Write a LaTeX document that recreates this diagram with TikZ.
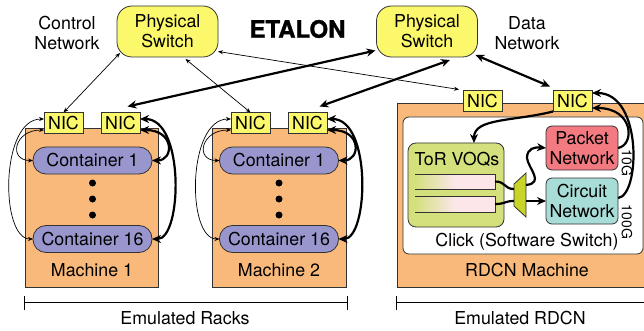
\documentclass[tikz,border=0pt]{standalone}
\usepackage{fontspec}
\setmainfont{TeX Gyre Heros}
\newfontfamily\titlefont{TeX Gyre Heros}[FakeBold=1.3]
\usetikzlibrary{arrows.meta,calc}
\definecolor{machorange}{RGB}{249,185,123}
\definecolor{nicyellow}{RGB}{252,248,107}
\definecolor{contpurple}{RGB}{152,150,204}
\definecolor{torgreen}{RGB}{212,224,124}
\definecolor{trapgreen}{RGB}{200,212,40}
\definecolor{pktred}{RGB}{242,122,128}
\definecolor{circteal}{RGB}{168,220,214}
\definecolor{qpink}{RGB}{252,230,234}
\definecolor{edge}{RGB}{50,50,50}
\begin{document}
\begin{tikzpicture}[x=1pt,y=-1pt,
  font=\fontsize{17.8}{20}\selectfont,
  every node/.style={inner sep=0pt, outer sep=0pt},
  machbox/.style={draw=edge, line width=0.8pt, fill=machorange},
  nicbox/.style={draw=edge, line width=0.8pt, fill=nicyellow, minimum width=39pt, minimum height=21pt},
  switchbox/.style={draw=edge, line width=0.8pt, fill=nicyellow, rounded corners=15pt, minimum width=101pt, minimum height=51pt, align=center},
  contbox/.style={draw=edge, line width=0.8pt, fill=contpurple, rounded corners=13pt, minimum width=119pt, minimum height=27pt},
  netbox/.style={draw=edge, line width=0.8pt, rounded corners=6pt, minimum width=72pt, align=center},
  ctl/.style={line width=0.7pt, {Stealth[length=5pt,width=4pt]}-{Stealth[length=5pt,width=4pt]}},
  dat/.style={line width=2.2pt, {Stealth[length=9pt,width=8pt]}-{Stealth[length=9pt,width=8pt]}},
  datone/.style={line width=2.2pt, -{Stealth[length=9pt,width=8pt]}},
  datplain/.style={line width=2.2pt},
  glabel/.style={rotate=-90, font=\fontsize{14}{14}\selectfont}
]
\useasboundingbox (0,0) rectangle (644,331);

% ---------- top ----------
\node[switchbox] (ls) at (167.5,31.5) {Physical\\Switch};
\node[switchbox] (rs) at (427,31.5) {Physical\\Switch};
\node[align=center] (ctllbl) at (67,33) {Control\\Network};
\node[align=center] (datlbl) at (527,33) {Data\\Network};
\node[font=\fontsize{24}{24}\titlefont\bfseries] (title) at (297.5,29) {ETALON};

% ---------- machine 1 ----------
\node[machbox, minimum width=133pt, minimum height=159pt] (m1) at (91.5,207.5) {};
\node[contbox] (m1c1) at (92.5,160.5) {Container 1};
\node[contbox] (m1c16) at (92.5,239) {Container 16};
\fill (92.5,183) circle (3.5);
\fill (92.5,199) circle (3.5);
\fill (92.5,215) circle (3.5);
\node (m1lbl) at (92,270) {Machine 1};
\node[nicbox] (m1a) at (63.5,123) {NIC};
\node[nicbox] (m1b) at (120.5,123) {NIC};

% ---------- machine 2 ----------
\node[machbox, minimum width=134pt, minimum height=159pt] (m2) at (279,207.5) {};
\node[contbox] (m2c1) at (279,160.5) {Container 1};
\node[contbox] (m2c16) at (279,239) {Container 16};
\fill (279,183) circle (3.5);
\fill (279,199) circle (3.5);
\fill (279,215) circle (3.5);
\node (m2lbl) at (279,270) {Machine 2};
\node[nicbox] (m2a) at (250.5,123) {NIC};
\node[nicbox] (m2b) at (307.5,123) {NIC};

% ---------- RDCN machine ----------
\node[machbox, minimum width=263pt, minimum height=184pt] (rm) at (528.5,195) {};
\node[draw=edge, line width=0.8pt, fill=white, rounded corners=6pt, minimum width=240pt, minimum height=137pt] (click) at (523,185.5) {};
\node (clicklbl) at (527,242) {Click (Software Switch)};
\node (rmlbl) at (527,270) {RDCN Machine};
\node[nicbox] (r1) at (482.5,101) {NIC};
\node[nicbox] (r2) at (572.5,101) {NIC};

\node[draw=edge, line width=0.8pt, fill=torgreen, rounded corners=8pt, minimum width=96pt, minimum height=84pt] (tor) at (456,185) {};
\node (torlbl) at (457,159) {ToR VOQs};
% queues
\shade[left color=torgreen, right color=qpink] (415,174) rectangle (455,189);
\fill[qpink] (455,174) rectangle (495,189);
\shade[left color=torgreen, right color=qpink] (415,196) rectangle (455,212);
\fill[qpink] (455,196) rectangle (495,212);
\draw[edge, line width=0.8pt] (415,174) -- (495,174) -- (495,189) -- (415,189);
\draw[edge, line width=0.8pt] (415,196) -- (495,196) -- (495,212) -- (415,212);
\coordinate (q1out) at (495,181.5);
\coordinate (q2out) at (495,204);
% mux
\draw[edge, line width=0.8pt, fill=trapgreen] (514,184) -- (526,173) -- (526,217) -- (514,206) -- cycle;
\coordinate (muxin1) at (514,189);
\coordinate (muxin2) at (514,201);
\coordinate (muxout1) at (526,185);
\coordinate (muxout2) at (526,201);

\node[netbox, fill=pktred, minimum height=44pt] (pk) at (582,148) {Packet\\Network};
\node[netbox, fill=circteal, minimum height=46pt] (cc) at (582,201) {Circuit\\Network};
\node[glabel] (g10) at (627,163) {10G};
\node[glabel] (g100) at (627,222) {100G};

% ---------- brackets ----------
\draw[line width=0.7pt] (24,296) -- (24,310) (24,302) -- (347,302) (347,296) -- (347,310);
\node (racklbl) at (185,318) {Emulated Racks};
\draw[line width=0.7pt] (396,296) -- (396,310) (396,302) -- (660,302);
\node (rdcnlbl) at (520,318) {Emulated RDCN};

% ---------- control network ----------
\draw[ctl] ([shift={(3,-4)}]ls.south west) -- (m1a.north);
\draw[ctl] ([shift={(18,2)}]ls.south) -- (m2a.north);
\draw[ctl] ([shift={(0,20)}]ls.east) -- ([shift={(-4,-1)}]r1.north west);

% ---------- data network ----------
\draw[dat] ([shift={(7,-6)}]m1b.north) -- ([shift={(-1,19)}]rs.west);
\draw[dat] ([shift={(12,-6)}]m2b.north) -- ([shift={(23,3)}]rs.south);
\draw[dat] ([shift={(-2,-2)}]rs.south east) -- ([shift={(-3,-4)}]r2.north west);

% ---------- machine internals ----------
\draw[ctl] ([shift={(0,-4)}]m1a.west) .. controls +(-44,0) and +(-33,0) .. (m1c16.west);
\draw[ctl] ([shift={(0,7)}]m1a.west) .. controls +(-30,0) and +(-25,0) .. (m1c1.west);
\draw[dat] ([shift={(0,-4)}]m1b.east) .. controls +(45,0) and +(30,0) .. (m1c16.east);
\draw[dat] ([shift={(0,7)}]m1b.east) .. controls +(35,0) and +(22,0) .. (m1c1.east);

\draw[ctl] ([shift={(0,-4)}]m2a.west) .. controls +(-44,0) and +(-33,0) .. (m2c16.west);
\draw[ctl] ([shift={(0,7)}]m2a.west) .. controls +(-30,0) and +(-25,0) .. (m2c1.west);
\draw[dat] ([shift={(0,-4)}]m2b.east) .. controls +(45,0) and +(30,0) .. (m2c16.east);
\draw[dat] ([shift={(0,7)}]m2b.east) .. controls +(35,0) and +(22,0) .. (m2c1.east);

% ---------- RDCN internals ----------
\draw[datone] (r2.south west) .. controls +(-40,10) and +(0,-25) .. ([xshift=18pt]tor.north);
\draw[datone] (pk.east) .. controls +(17,-3) and +(42,0) .. ([shift={(0,7)}]r2.east);
\draw[datone] ([shift={(0,-3)}]cc.east) .. controls +(22,-2) and +(51,0) .. ([shift={(0,-8)}]r2.east);
\draw[datplain] (q1out) .. controls +(11,0) and +(-10,0) .. (muxin1);
\draw[datplain] (q2out) .. controls +(11,0) and +(-10,0) .. (muxin2);
\draw[datone] (muxout2) -- (cc.west |- muxout2);
\draw[datone] (muxout1) .. controls (545,183) and (528,168) .. (527,158) .. controls (527,148) and (535,147) .. (pk.west);
\end{tikzpicture}
\end{document}
